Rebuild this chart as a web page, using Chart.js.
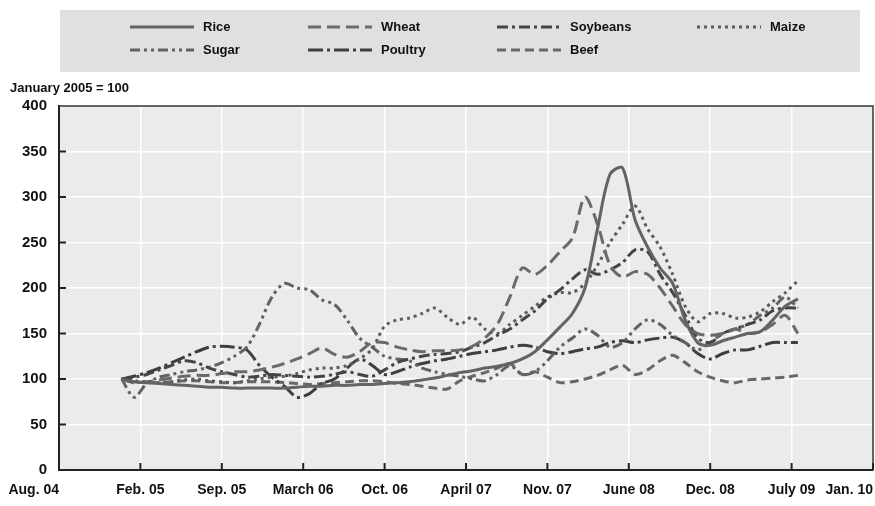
<!DOCTYPE html>
<html>
<head>
<meta charset="utf-8">
<script src="https://cdn.jsdelivr.net/npm/chart.js@4"></script>
<style>
  body { margin: 0; background: #fff; }
  #wrap { position: relative; width: 875px; height: 506px; }
</style>
</head>
<body>
<div id="wrap"><canvas id="chart"></canvas></div>
<script>
// x axis runs in months from Aug 2004 (0) to Jan 2010 (65); series start Jan 2005
var tickLabels = ['Aug. 04', 'Feb. 05', 'Sep. 05', 'March 06', 'Oct. 06', 'April 07', 'Nov. 07', 'June 08', 'Dec. 08', 'July 09', 'Jan. 10'];
var firstMonth = 5;
var lastMonth = 65;

// monthly values, Jan 2005 .. July 2009 (January 2005 = 100)
var rice = [100, 97, 96, 95, 94, 93, 92, 91, 91, 90, 90, 90,
            90, 90, 91, 92, 92, 93, 93, 94, 94, 95, 96, 97,
            99, 101, 104, 107, 109, 112, 114, 117, 122, 130, 143, 157,
            172, 200, 265, 325, 332, 275, 245, 222, 205, 165, 140, 137,
            142, 146, 150, 152, 165, 180, 188];
var wheat = [100, 96, 97, 99, 101, 103, 104, 104, 106, 108, 108, 110,
             113, 117, 122, 128, 134, 127, 124, 130, 140, 140, 135, 132,
             130, 131, 131, 132, 136, 145, 160, 190, 222, 215, 225, 240,
             255, 300, 270, 225, 212, 218, 215, 200, 180, 160, 150, 148,
             150, 155, 150, 152, 160, 170, 150];
var soybeans = [100, 102, 105, 110, 115, 120, 118, 112, 108, 105, 102, 103,
                105, 104, 103, 102, 103, 105, 108, 105, 103, 110, 118, 122,
                125, 127, 128, 130, 135, 140, 148, 155, 165, 175, 188, 198,
                210, 220, 215, 220, 228, 242, 240, 215, 195, 170, 145, 140,
                150, 155, 160, 165, 175, 178, 178];
var maize = [100, 98, 97, 96, 97, 99, 100, 98, 97, 96, 98, 100,
             102, 103, 106, 110, 112, 112, 115, 122, 133, 158, 165, 167,
             172, 178, 168, 160, 168, 155, 150, 160, 170, 180, 190, 195,
             195, 205, 225, 250, 270, 290, 265, 245, 215, 180, 163, 172,
             172, 167, 168, 174, 185, 195, 208];
var sugar = [100, 80, 95, 102, 105, 108, 110, 113, 118, 125, 135, 160,
             190, 205, 200, 198, 187, 182, 165, 145, 135, 125, 122, 120,
             112, 108, 105, 103, 100, 98, 105, 115, 105, 108, 120, 135,
             145, 155, 148, 135, 140, 155, 165, 160, 148, 140, 132, 140,
             150, 155, 160, 170, 178, 190, 178];
var poultry = [100, 103, 107, 112, 118, 124, 130, 135, 136, 135, 132, 115,
               102, 92, 80, 84, 95, 100, 112, 122, 115, 105, 108, 113,
               117, 120, 122, 125, 128, 130, 132, 135, 137, 135, 130, 128,
               130, 133, 135, 140, 142, 140, 143, 145, 146, 140, 128, 122,
               128, 132, 132, 136, 140, 140, 140];
var beef = [100, 97, 96, 96, 97, 98, 98, 97, 96, 96, 97, 97,
            97, 96, 95, 94, 95, 96, 97, 98, 98, 97, 95, 94,
            92, 90, 89, 98, 103, 107, 112, 117, 105, 108, 102, 96,
            97, 100, 104, 110, 115, 105, 110, 120, 126, 118, 108, 102,
            98, 96, 99, 100, 101, 102, 104];

var FONT = '"Liberation Sans", Arial, sans-serif';

function toPoints(values) {
    var pts = [];
    for (var i = 0; i < values.length; i++) {
        pts.push({ x: firstMonth + i, y: values[i] });
    }
    return pts;
}

function serie(label, values, color, dash) {
    return {
        label: label,
        data: toPoints(values),
        borderColor: color,
        borderWidth: 3,
        borderDash: dash,
        pointRadius: 0,
        tension: 0.3,
        fill: false
    };
}

var datasets = [
    serie('Rice', rice, '#636363', []),
    serie('Wheat', wheat, '#6a6a6a', [13, 6]),
    serie('Soybeans', soybeans, '#444444', [11, 4, 3, 4]),
    serie('Maize', maize, '#5c5c5c', [3, 4]),
    serie('Sugar', sugar, '#626262', [10, 4, 3, 4, 3, 4]),
    serie('Poultry', poultry, '#3e3e3e', [15, 4, 3, 4]),
    serie('Beef', beef, '#686868', [9, 5])
];

// legend positions in the grey band at the top
var legendCols = [130, 308, 497, 697];
var legendRows = [27, 50];

var decorPlugin = {
    id: 'decor',
    beforeDraw: function(chart) {
        var ctx = chart.ctx;
        var a = chart.chartArea;
        ctx.save();
        ctx.fillStyle = '#ffffff';
        ctx.fillRect(0, 0, chart.width, chart.height);
        ctx.fillStyle = '#ebebeb';
        ctx.fillRect(a.left, a.top, a.right - a.left, a.bottom - a.top);
        ctx.restore();
    },
    afterDraw: function(chart) {
        var ctx = chart.ctx;
        var a = chart.chartArea;
        var xs = chart.scales.x;
        var ys = chart.scales.y;
        ctx.save();

        // frame top / right
        ctx.strokeStyle = '#333';
        ctx.lineWidth = 1.5;
        ctx.beginPath();
        ctx.moveTo(a.left, a.top);
        ctx.lineTo(a.right, a.top);
        ctx.lineTo(a.right, a.bottom);
        ctx.stroke();

        // inner tick marks
        ctx.lineWidth = 2;
        ctx.strokeStyle = '#222';
        for (var v = 50; v < 400; v += 50) {
            var py = ys.getPixelForValue(v);
            ctx.beginPath();
            ctx.moveTo(a.left, py);
            ctx.lineTo(a.left + 7, py);
            ctx.stroke();
        }
        for (var i = 1; i < tickLabels.length; i++) {
            var px = xs.getPixelForValue(i * lastMonth / (tickLabels.length - 1));
            ctx.beginPath();
            ctx.moveTo(px, a.bottom);
            ctx.lineTo(px, a.bottom - 7);
            ctx.stroke();
        }

        // x tick labels
        ctx.fillStyle = '#111';
        ctx.font = 'bold 14px ' + FONT;
        ctx.textBaseline = 'middle';
        for (var j = 0; j < tickLabels.length; j++) {
            var tx = xs.getPixelForValue(j * lastMonth / (tickLabels.length - 1));
            if (j === 0) {
                ctx.textAlign = 'right';
            } else if (j === tickLabels.length - 1) {
                ctx.textAlign = 'right';
                tx = chart.width - 2;
            } else {
                ctx.textAlign = 'center';
            }
            ctx.fillText(tickLabels[j], tx, 490);
        }

        // unit label
        ctx.font = 'bold 13px ' + FONT;
        ctx.textAlign = 'left';
        ctx.fillText('January 2005 = 100', 10, 88);

        // legend band
        ctx.fillStyle = '#e0e0e0';
        ctx.fillRect(60, 10, 800, 62);
        var sets = chart.data.datasets;
        for (var k = 0; k < sets.length; k++) {
            var lx = legendCols[k % 4];
            var ly = legendRows[Math.floor(k / 4)];
            ctx.strokeStyle = sets[k].borderColor;
            ctx.lineWidth = 3;
            ctx.setLineDash(sets[k].borderDash);
            ctx.beginPath();
            ctx.moveTo(lx, ly);
            ctx.lineTo(lx + 64, ly);
            ctx.stroke();
            ctx.setLineDash([]);
            ctx.fillStyle = '#111';
            ctx.textAlign = 'left';
            ctx.fillText(sets[k].label, lx + 73, ly);
        }
        ctx.restore();
    }
};

var chart = new Chart(document.getElementById('chart'), {
    type: 'line',
    data: { datasets: datasets },
    plugins: [decorPlugin],
    options: {
        responsive: true,
        maintainAspectRatio: false,
        animation: false,
        layout: { padding: { top: 106, right: 2, bottom: 0, left: 0 } },
        plugins: {
            legend: { display: false },
            tooltip: { enabled: false }
        },
        scales: {
            x: {
                type: 'linear',
                min: 0,
                max: lastMonth,
                afterBuildTicks: function(scale) {
                    scale.ticks = tickLabels.map(function(l, i) {
                        return { value: i * lastMonth / (tickLabels.length - 1) };
                    });
                },
                afterFit: function(scale) { scale.height = 36; },
                ticks: { display: false },
                grid: { color: '#ffffff', lineWidth: 1.5, drawTicks: false },
                border: { color: '#222', width: 2 }
            },
            y: {
                min: 0,
                max: 400,
                afterFit: function(scale) { scale.width = 59; },
                ticks: {
                    stepSize: 50,
                    padding: 12,
                    color: '#111',
                    font: { family: FONT, size: 15, weight: 'bold' }
                },
                grid: { color: '#ffffff', lineWidth: 1.5, drawTicks: false },
                border: { color: '#222', width: 2 }
            }
        }
    }
});
</script>
</body>
</html>
